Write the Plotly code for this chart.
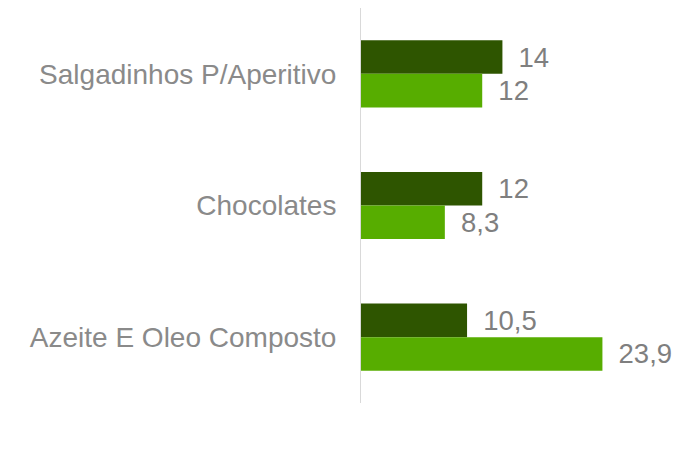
import plotly.graph_objects as go

categories = ["Salgadinhos P/Aperitivo", "Chocolates", "Azeite E Oleo Composto"]
series_dark = [14, 12, 10.5]
series_light = [12, 8.3, 23.9]

def fmt(v):
    s = f"{v:g}"
    return " \u2009" + s.replace(".", ",")

FONT = "Liberation Sans, Arial"

fig = go.Figure()
fig.add_trace(go.Bar(
    y=categories, x=series_dark, orientation="h",
    marker=dict(color="#2E5500", line=dict(width=0)),
    text=[fmt(v) for v in series_dark], textposition="outside",
    textfont=dict(family=FONT, size=27.5, color="#7F7F7F"),
    cliponaxis=False, constraintext="none", name="A",
))
fig.add_trace(go.Bar(
    y=categories, x=series_light, orientation="h",
    marker=dict(color="#57AD00", line=dict(width=0)),
    text=[fmt(v) for v in series_light], textposition="outside",
    textfont=dict(family=FONT, size=27.5, color="#7F7F7F"),
    cliponaxis=False, constraintext="none", name="B",
))

fig.update_layout(
    width=674, height=455,
    margin=dict(l=361, r=14, t=8, b=52, autoexpand=False),
    paper_bgcolor="white", plot_bgcolor="white",
    barmode="group", bargap=0.49, bargroupgap=0,
    showlegend=False,
    font=dict(family=FONT, color="#888888"),
)
fig.update_xaxes(range=[0, 29.6], visible=False, showgrid=False, zeroline=False,
                 automargin=False)
fig.update_yaxes(
    autorange=False, range=[2.5, -0.5], type="category",
    showline=True, linecolor="#D9D9D9", linewidth=1,
    ticks="", showgrid=False, automargin=False,
    tickfont=dict(family=FONT, size=28, color="#8A8A8A"),
    ticklabelstandoff=18,
)
fig.write_html(
    "out.html",
    config={"displayModeBar": False},
    post_script="document.body.style.margin='0';document.body.style.overflow='hidden';",
)
